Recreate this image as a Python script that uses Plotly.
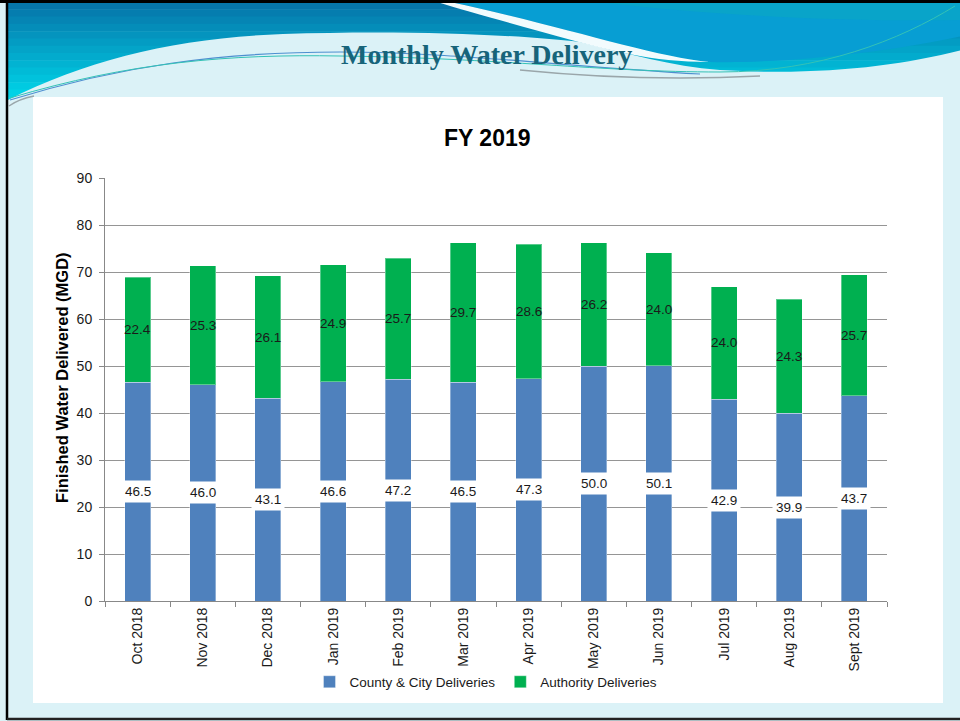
import plotly.graph_objects as go

months = ["Oct 2018", "Nov 2018", "Dec 2018", "Jan 2019", "Feb 2019", "Mar 2019",
          "Apr 2019", "May 2019", "Jun 2019", "Jul 2019", "Aug 2019", "Sept 2019"]
county_city = [46.5, 46.0, 43.1, 46.6, 47.2, 46.5, 47.3, 50.0, 50.1, 42.9, 39.9, 43.7]
authority = [22.4, 25.3, 26.1, 24.9, 25.7, 29.7, 28.6, 26.2, 24.0, 24.0, 24.3, 25.7]
y_ticks = [0, 10, 20, 30, 40, 50, 60, 70, 80, 90]

W, H = 960, 721
FONT = "Arial, Liberation Sans, sans-serif"


def X(px):
    return px / W


def Y(py):
    return 1 - py / H


def path(pts):
    out = []
    for cmd, nums in pts:
        coords = []
        for i in range(0, len(nums), 2):
            coords.append(f"{X(nums[i]):.5f},{Y(nums[i+1]):.5f}")
        out.append(cmd + (" " + " ".join(coords) if coords else ""))
    return " ".join(out)


shapes = []


def add_path(p, fill, line_color=None, width=0, opacity=1.0):
    shapes.append(dict(type="path", xref="paper", yref="paper", path=p,
                       fillcolor=fill if fill else "rgba(0,0,0,0)",
                       line=dict(color=line_color or "rgba(0,0,0,0)", width=width),
                       opacity=opacity, layer="below"))


def add_rect(x0, y0, x1, y1, fill, line_color=None, width=0):
    shapes.append(dict(type="rect", xref="paper", yref="paper",
                       x0=X(x0), y0=Y(y1), x1=X(x1), y1=Y(y0),
                       fillcolor=fill if fill else "rgba(0,0,0,0)",
                       line=dict(color=line_color or "rgba(0,0,0,0)", width=width),
                       layer="below"))


# --- header gradient (strips) ---
top_c = (6, 118, 170)
bot_c = (0, 218, 236)
n = 14
y_start, y_end = 2, 104
for i in range(n):
    t = i / (n - 1)
    c = tuple(int(top_c[k] + (bot_c[k] - top_c[k]) * t) for k in range(3))
    ya = y_start + (y_end - y_start) * i / n
    yb = y_start + (y_end - y_start) * (i + 1) / n + 0.5
    add_rect(8, ya, 962, yb, f"rgb{c}")

# light region
add_path(path([("M", [8, 106]), ("L", [8, 100]),
               ("C", [90, 58, 180, 38, 283, 34]),
               ("C", [400, 30, 510, 34, 580, 42]),
               ("C", [630, 54, 670, 66, 720, 70]),
               ("C", [820, 76, 900, 66, 962, 50]),
               ("L", [962, 106]), ("Z", [])]), "#DBF2F7")

# right blue region
add_path(path([("M", [450, 2]), ("L", [962, 2]), ("L", [962, 36]),
               ("C", [900, 50, 790, 64, 710, 62]),
               ("C", [650, 56, 560, 25, 450, 2]), ("Z", [])]), "#079ED3")
add_path(path([("M", [600, 2]), ("L", [962, 2]), ("L", [962, 20]),
               ("C", [850, 22, 700, 15, 600, 2]), ("Z", [])]), "#0AA6C4", opacity=0.7)

# white swoosh
add_path(path([("M", [437, 2]), ("L", [450, 2]),
               ("C", [560, 25, 650, 56, 710, 62]),
               ("C", [650, 62, 610, 50, 575, 41]),
               ("C", [520, 26, 470, 12, 437, 2]), ("Z", [])]), "#F2FBFD")

# thin decorative lines
add_path(path([("M", [10, 100]), ("C", [120, 66, 220, 52, 340, 52]),
               ("C", [450, 52, 560, 66, 700, 74])]), None, "#4E8FD0", 1.2)
add_path(path([("M", [10, 98]), ("C", [130, 62, 230, 54, 340, 56]),
               ("C", [500, 58, 600, 72, 720, 72]),
               ("C", [820, 72, 900, 40, 955, 6])]), None, "#34C2B6", 1.0)
add_path(path([("M", [520, 70]), ("C", [600, 78, 680, 80, 760, 76])]), None, "#9AA6AA", 1.6)
add_path(path([("M", [9, 106]), ("C", [16, 101, 24, 98, 34, 96])]), None, "#9AA6AA", 1.4)

# white chart panel
add_rect(33, 97, 943, 703, "white")

# black frame
shapes.append(dict(type="line", xref="paper", yref="paper",
                   x0=0, x1=1, y0=Y(1.5), y1=Y(1.5),
                   line=dict(color="black", width=3), layer="above"))
shapes.append(dict(type="line", xref="paper", yref="paper",
                   x0=X(7), x1=X(7), y0=Y(0), y1=Y(720),
                   line=dict(color="black", width=2.5), layer="above"))
shapes.append(dict(type="line", xref="paper", yref="paper",
                   x0=X(7), x1=1, y0=Y(719), y1=Y(719),
                   line=dict(color="#222222", width=2.5), layer="above"))

fig = go.Figure()
fig.add_trace(go.Bar(
    x=months, y=county_city, name="County & City Deliveries",
    marker=dict(color="#4F81BD", line=dict(color="rgba(255,255,255,0.35)", width=1)),
    hoverinfo="skip"))
fig.add_trace(go.Bar(
    x=months, y=authority, name="Authority Deliveries",
    marker=dict(color="#00B050", line=dict(color="rgba(255,255,255,0.35)", width=1)),
    hoverinfo="skip"))

annotations = []
for m, b, g in zip(months, county_city, authority):
    annotations.append(dict(x=m, y=b / 2, xref="x", yref="y", text=f"{b:.1f}",
                            showarrow=False, bgcolor="white", borderpad=3,
                            font=dict(family=FONT, size=13.5, color="#1a1a1a")))
    annotations.append(dict(x=m, y=b + g / 2, xref="x", yref="y", text=f"{g:.1f}",
                            showarrow=False,
                            font=dict(family=FONT, size=13.5, color="#1a1a1a")))

annotations.append(dict(x=X(486.5), y=Y(55), xref="paper", yref="paper",
                        text="<b>Monthly Water Delivery</b>", showarrow=False,
                        xanchor="center", yanchor="middle",
                        font=dict(family="Liberation Serif, DejaVu Serif, serif",
                                  size=28, color="#17647A")))
annotations.append(dict(x=X(487), y=Y(138), xref="paper", yref="paper",
                        text="<b>FY 2019</b>", showarrow=False,
                        xanchor="center", yanchor="middle",
                        font=dict(family=FONT, size=23, color="#000000")))
annotations.append(dict(x=X(62), y=Y(378), xref="paper", yref="paper",
                        text="<b>Finished Water Delivered (MGD)</b>", showarrow=False,
                        textangle=-90, xanchor="center", yanchor="middle",
                        font=dict(family=FONT, size=16.5, color="#000000")))

fig.update_layout(
    width=W, height=H, autosize=False,
    margin=dict(l=0, r=0, t=0, b=0, pad=0),
    paper_bgcolor="#DBF2F7",
    plot_bgcolor="rgba(0,0,0,0)",
    barmode="stack", bargap=0.6,
    shapes=shapes, annotations=annotations,
    showlegend=True,
    legend=dict(orientation="h", x=X(486), xanchor="center", y=Y(682), yanchor="middle",
                font=dict(family=FONT, size=13.5, color="#1a1a1a"),
                bgcolor="rgba(0,0,0,0)", itemwidth=30, traceorder="normal"),
    xaxis=dict(domain=[X(105), X(887)], automargin=False,
               type="category", tickangle=-90,
               tickfont=dict(family=FONT, size=14, color="#1a1a1a"),
               ticks="outside", ticklen=5, tickcolor="#888888", tickson="boundaries",
               showline=True, linecolor="#888888", linewidth=1,
               showgrid=False, fixedrange=True),
    yaxis=dict(domain=[Y(601), Y(178)], automargin=False,
               range=[0, 90], tickvals=y_ticks,
               tickfont=dict(family=FONT, size=14, color="#1a1a1a"),
               ticks="outside", ticklen=5, tickcolor="#888888",
               showline=True, linecolor="#888888", linewidth=1,
               showgrid=True, gridcolor="#959595", gridwidth=1,
               zeroline=False, ticklabelstandoff=4, fixedrange=True),
    font=dict(family=FONT),
)

fig.write_html("out.html", config={"displayModeBar": False},
               post_script="document.body.style.margin='0';document.body.style.padding='0';")
